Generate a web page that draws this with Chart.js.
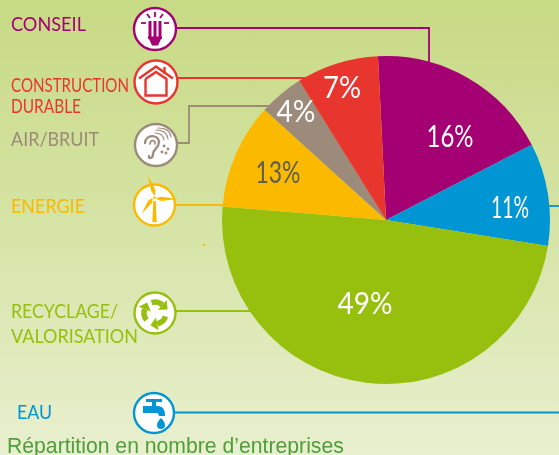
<!DOCTYPE html>
<html lang="fr">
<head>
<meta charset="utf-8">
<title>Répartition en nombre d'entreprises</title>
<script src="https://cdn.jsdelivr.net/npm/chart.js@4"></script>
<style>
	html, body { margin: 0; padding: 0; }
	body {
		width: 559px;
		height: 455px;
		overflow: hidden;
		background: linear-gradient(to bottom, #c7da84 0%, #d6e4a6 50%, #e8f0cf 100%);
	}
	canvas { display: block; }
</style>
</head>
<body>
<canvas id="pieChart" width="559" height="455"></canvas>
<script>
/* Clockwise from the top of the pie */
const categories = ["CONSEIL", "EAU", "RECYCLAGE/ VALORISATION", "ENERGIE", "AIR/BRUIT", "CONSTRUCTION DURABLE"];
// printed on the slices
const printedPercent = [16, 11, 49, 13, 4, 7];
// what the slices really measure in the picture (not the same as printed)
const drawnShares = [18.2, 10.1, 48.8, 10.4, 4.4, 8.1];
const sliceColors = ["#a50073", "#0095d3", "#97bf0d", "#fbba00", "#9c8b7a", "#e8362e"];
const chartTitle = "Répartition en nombre d’entreprises";

/* =========================================
	LAYOUT OF THE DECORATION
=========================================*/
const percentSpots = [
	{ x: 450, y: 137, w: 47 },
	{ x: 510, y: 208, w: 38 },
	{ x: 365, y: 304, w: 55 },
	{ x: 278, y: 173, w: 45 },
	{ x: 296, y: 112, w: 39 },
	{ x: 342, y: 88, w: 38 }
];
const labelSpots = [
	{ x: 11, lines: [{ text: "CONSEIL", y: 31, w: 75 }] },
	{ x: 17, lines: [{ text: "EAU", y: 419, w: 35 }] },
	{ x: 11, lines: [{ text: "RECYCLAGE/", y: 318, w: 107 }, { text: "VALORISATION", y: 343, w: 127 }] },
	{ x: 11, lines: [{ text: "ENERGIE", y: 213, w: 74 }] },
	{ x: 11, lines: [{ text: "AIR/BRUIT", y: 146, w: 88 }] },
	{ x: 11, lines: [{ text: "CONSTRUCTION", y: 92, w: 118 }, { text: "DURABLE", y: 113, w: 70 }] }
];
const iconSpots = [
	{ x: 155, y: 29, r: 21 },
	{ x: 154, y: 413, r: 20 },
	{ x: 155, y: 313, r: 20.5 },
	{ x: 154.5, y: 205, r: 20.5 },
	{ x: 156, y: 145, r: 21 },
	{ x: 156, y: 82, r: 21.5 }
];
const leaders = [
	[[177, 28], [429, 28], [429, 66]],
	[[175, 412.5], [559, 412.5]],
	[[176, 311], [256, 311]],
	[[175, 205], [226, 205]],
	[[178, 143], [189, 143], [189, 106], [270, 106]],
	[[178, 78], [305, 78]]
];

function polyline(ctx, pts, color, width) {
	ctx.beginPath();
	pts.forEach((p, i) => i ? ctx.lineTo(p[0], p[1]) : ctx.moveTo(p[0], p[1]));
	ctx.strokeStyle = color;
	ctx.lineWidth = width;
	ctx.stroke();
}

/* =========================================
	ICONS, origin at the circle centre
=========================================*/
const iconDrawers = [
	function bulb(ctx, c) {
		ctx.fillStyle = c;
		[-6.5, -1.5, 3.5].forEach(x => ctx.fillRect(x, -8, 3, 16));
		ctx.fillRect(-7, 7.5, 14, 2.5);
		ctx.beginPath();
		ctx.moveTo(-6, 10);
		ctx.lineTo(6, 10);
		ctx.lineTo(3, 16.5);
		ctx.lineTo(-3, 16.5);
		ctx.closePath();
		ctx.fill();
		polyline(ctx, [[0, -17], [0, -12]], c, 1.8);
		polyline(ctx, [[-8, -15], [-5, -11]], c, 1.8);
		polyline(ctx, [[8, -15], [5, -11]], c, 1.8);
		polyline(ctx, [[-14, -6], [-9, -6]], c, 1.8);
		polyline(ctx, [[14, -6], [9, -6]], c, 1.8);
	},
	function tap(ctx, c) {
		ctx.fillStyle = c;
		ctx.fillRect(-8, -14, 16, 3);
		ctx.fillRect(-2, -11, 4, 4);
		ctx.beginPath();
		ctx.moveTo(-11, -7);
		ctx.lineTo(4, -7);
		ctx.quadraticCurveTo(11, -7, 11, 3);
		ctx.lineTo(5, 3);
		ctx.quadraticCurveTo(5, 0, 2, 0);
		ctx.lineTo(-11, 0);
		ctx.closePath();
		ctx.fill();
		ctx.beginPath();
		ctx.moveTo(7, 5);
		ctx.quadraticCurveTo(11, 9, 11, 12);
		ctx.arc(7, 12, 4, 0, Math.PI);
		ctx.quadraticCurveTo(3, 9, 7, 5);
		ctx.fill();
	},
	function recycle(ctx, c) {
		ctx.lineWidth = 5.5;
		ctx.strokeStyle = c;
		ctx.fillStyle = c;
		[-Math.PI * 0.6, Math.PI * 0.1, Math.PI * 0.78].forEach(a => {
			ctx.beginPath();
			ctx.arc(0, 0, 11, a, a + 1.05);
			ctx.stroke();
			const e = a + 1.05;
			const tx = Math.cos(e) * 11, ty = Math.sin(e) * 11;
			const dx = -Math.sin(e), dy = Math.cos(e);
			const nx = Math.cos(e), ny = Math.sin(e);
			ctx.beginPath();
			ctx.moveTo(tx + nx * 6.5, ty + ny * 6.5);
			ctx.lineTo(tx - nx * 6.5, ty - ny * 6.5);
			ctx.lineTo(tx + dx * 7, ty + dy * 7);
			ctx.closePath();
			ctx.fill();
		});
	},
	function windmill(ctx, c) {
		ctx.fillStyle = c;
		const hub = [0, -7.5];
		[[-7, -30], [23, -6], [-13, 9]].forEach(tip => {
			const dx = tip[0] - hub[0], dy = tip[1] - hub[1];
			const len = Math.hypot(dx, dy);
			const nx = -dy / len, ny = dx / len;
			ctx.beginPath();
			ctx.moveTo(hub[0] + nx * 0.8, hub[1] + ny * 0.8);
			ctx.lineTo(hub[0] + dx * 0.3 + nx * 3, hub[1] + dy * 0.3 + ny * 3);
			ctx.lineTo(tip[0], tip[1]);
			ctx.lineTo(hub[0] + dx * 0.3 - nx * 1.2, hub[1] + dy * 0.3 - ny * 1.2);
			ctx.closePath();
			ctx.fill();
		});
		ctx.beginPath();
		ctx.moveTo(-1.2, -4);
		ctx.lineTo(1.2, -4);
		ctx.lineTo(2.2, 17);
		ctx.lineTo(-2.2, 17);
		ctx.closePath();
		ctx.fill();
		ctx.beginPath();
		ctx.arc(0, -7.5, 2.4, 0, Math.PI * 2);
		ctx.fillStyle = "#ffffff";
		ctx.fill();
		ctx.beginPath();
		ctx.arc(0, -7.5, 1.2, 0, Math.PI * 2);
		ctx.fillStyle = c;
		ctx.fill();
	},
	function ear(ctx, c) {
		ctx.strokeStyle = c;
		ctx.lineWidth = 2.3;
		ctx.lineCap = "round";
		ctx.beginPath();
		ctx.moveTo(-11, -2);
		ctx.bezierCurveTo(-10, -11, 2, -11, 3, -3);
		ctx.bezierCurveTo(3, 3, -3, 4, -3, 9);
		ctx.bezierCurveTo(-3, 14, -8, 14, -7, 11);
		ctx.stroke();
		ctx.lineWidth = 1.7;
		ctx.beginPath();
		ctx.moveTo(-6, -1);
		ctx.bezierCurveTo(-6, -6, 0, -5, -1, -1);
		ctx.stroke();
		ctx.lineWidth = 1.1;
		[[-1, -12, 7, -5], [0, -15, 11, -6], [2, -17, 14, -8]].forEach(a => {
			ctx.beginPath();
			ctx.moveTo(a[0], a[1]);
			ctx.quadraticCurveTo(a[2], a[1], a[2] + 1, a[3]);
			ctx.stroke();
		});
		ctx.fillStyle = c;
		[[8, 1], [12, 4], [6, 7], [10, 8]].forEach(p => {
			ctx.beginPath();
			ctx.arc(p[0], p[1], 1.4, 0, Math.PI * 2);
			ctx.fill();
		});
	},
	function house(ctx, c) {
		polyline(ctx, [[-17, -3.5], [0, -15.5], [17, -3.5]], c, 2.6);
		polyline(ctx, [[8.5, -15], [8.5, -8]], c, 2.4);
		polyline(ctx, [[-10.5, -3], [0, -10], [10.5, -3], [10.5, 13.5], [-10.5, 13.5], [-10.5, -3]], c, 2.4);
	}
];

/* =========================================
	PLUGINS: leaders under the pie, the rest on top
=========================================*/
const decoration = {
	id: "decoration",
	beforeDatasetsDraw(chart) {
		const ctx = chart.ctx;
		ctx.save();
		leaders.forEach((pts, i) => polyline(ctx, pts, sliceColors[i], 1.8));
		// blue leader of the 11% slice, runs off the page
		polyline(ctx, [[549, 206], [559, 206]], sliceColors[1], 1.8);
		iconSpots.forEach((spot, i) => {
			ctx.save();
			ctx.translate(spot.x, spot.y);
			ctx.beginPath();
			ctx.arc(0, 0, spot.r, 0, Math.PI * 2);
			ctx.fillStyle = "#ffffff";
			ctx.fill();
			ctx.strokeStyle = sliceColors[i];
			ctx.lineWidth = 2.4;
			ctx.stroke();
			iconDrawers[i](ctx, sliceColors[i]);
			ctx.restore();
		});
		// stray orange speck in the original
		ctx.fillStyle = "#fbba00";
		ctx.fillRect(203, 244, 2, 2);
		ctx.restore();
	},
	afterDatasetsDraw(chart) {
		const ctx = chart.ctx;
		ctx.save();
		ctx.textBaseline = "alphabetic";
		ctx.textAlign = "left";
		ctx.font = "400 19.5px Lato";
		labelSpots.forEach((spot, i) => {
			ctx.fillStyle = sliceColors[i];
			spot.lines.forEach(line => ctx.fillText(line.text, spot.x, line.y, line.w));
		});
		ctx.font = "400 31px Lato";
		ctx.textAlign = "center";
		ctx.textBaseline = "middle";
		printedPercent.forEach((value, i) => {
			const spot = percentSpots[i];
			ctx.fillStyle = value === 13 ? "#5d5d55" : "#ffffff";
			ctx.fillText(value + "%", spot.x, spot.y, spot.w);
		});
		ctx.font = "21.2px 'Liberation Sans'";
		ctx.textAlign = "left";
		ctx.textBaseline = "alphabetic";
		ctx.fillStyle = "#4f9f38";
		ctx.fillText(chartTitle, 7, 453);
		ctx.restore();
	}
};

document.addEventListener("DOMContentLoaded", () => {

	const ctx = document.getElementById("pieChart");

	window.pieChart = new Chart(ctx, {

		type: "pie",

		data: {
			labels: categories,
			datasets: [{
				data: drawnShares,
				backgroundColor: sliceColors,
				borderWidth: 0
			}]
		},

		options: {
			responsive: false,
			animation: false,
			rotation: -2.8,
			layout: {
				padding: { left: 222, right: 9, top: 56, bottom: 71 }
			},
			plugins: {
				legend: { display: false },
				title: { display: false },
				tooltip: { enabled: false }
			}
		},

		plugins: [decoration]
	});
});
</script>
</body>
</html>
